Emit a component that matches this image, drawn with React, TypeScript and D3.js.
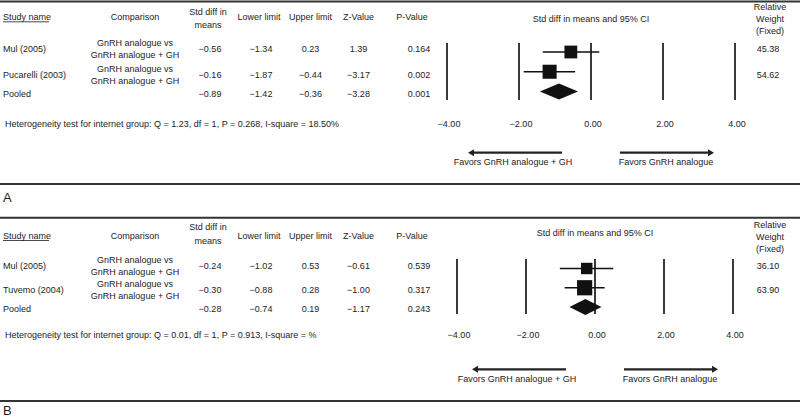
import React from "react";
import * as d3 from "d3";

// ---------- DATA ----------
const studiesA = ["Mul (2005)", "Pucarelli (2003)"];
const effectA = [-0.56, -0.16];
const markerA = [-0.56, -1.15]; // box position as drawn in the source figure
const lowerA = [-1.34, -1.87];
const upperA = [0.23, -0.44];
const zA = [1.39, -3.17];
const pA = [0.164, 0.002];
const weightA = [45.38, 54.62];
const pooledA = [-0.89, -1.42, -0.36, -3.28, 0.001]; // effect, lower, upper, z, p
const hetA = "Heterogeneity test for internet group: Q = 1.23, df = 1, P = 0.268, I-square = 18.50%";

const studiesB = ["Mul (2005)", "Tuvemo (2004)"];
const effectB = [-0.24, -0.30];
const markerB = [-0.24, -0.30];
const lowerB = [-1.02, -0.88];
const upperB = [0.53, 0.28];
const zB = [-0.61, -1.0];
const pB = [0.539, 0.317];
const weightB = [36.1, 63.9];
const pooledB = [-0.28, -0.74, 0.19, -1.17, 0.243];
const hetB = "Heterogeneity test for internet group: Q = 0.01, df = 1, P = 0.913, I-square = %";

const comparison = ["GnRH analogue vs", "GnRH analogue + GH"];
const ticks = [-4, -2, 0, 2, 4];
const favorsLeft = "Favors GnRH analogue + GH";
const favorsRight = "Favors GnRH analogue";

// ---------- LAYOUT ----------
const W = 800;
const H = 419;
const FONT = "'Liberation Sans', Arial, Helvetica, sans-serif";
const INK = "#1c1c1c";

const panels = [
  {
    label: "A", studies: studiesA, effect: effectA, marker: markerA, lower: lowerA, upper: upperA,
    z: zA, p: pA, weight: weightA, pooled: pooledA, het: hetA,
    top: 1.5, header: 17.3, std1: 12.3, std2: 25, rel: [7.3, 19.3, 30.8], title: 19.3,
    rowY: [49, 75, 94], plotY: [52, 91.5], vline: [43, 100], tickY: 123.5, hetY: 124,
    arrowY: 152.7, arrowText: 161.7, sep: 184, labelY: 197.7,
    xr: [447, 735],
  },
  {
    label: "B", studies: studiesB, effect: effectB, marker: markerB, lower: lowerB, upper: upperB,
    z: zB, p: pB, weight: weightB, pooled: pooledB, het: hetB,
    top: 217.7, header: 236, std1: 227.3, std2: 241, rel: [225, 236.8, 249], title: 233.3,
    rowY: [266, 290, 309], plotY: [268.5, 307], vline: [259, 314], tickY: 335, hetY: 335,
    arrowY: 369.3, arrowText: 379.3, sep: 401, labelY: 410.5,
    xr: [457, 733],
  },
];

const col = { study: 3, comp: 135, std: 210, lower: 261, upper: 310.5, z: 358.5, p: 419, pHead: 412, weight: 768 };

const f2 = d3.format(".2f");
const f3 = d3.format(".3f");
const fs = 9;

function Panel({ P }: { P: any }) {
  const x = d3.scaleLinear().domain([-4, 4]).range(P.xr);
  const y = d3.scaleLinear().domain([0, 2]).range(P.plotY);
  const size = d3.scaleSqrt().domain([0, 100]).range([0, 19]);
  const textProps = { fontFamily: FONT, fontSize: fs, fill: INK };
  const x0 = x(0);
  const arrowGap = 29;
  const arrowLen = 94;
  const rows = P.studies.map((s: string, i: number) => ({ s, i }));
  const pooledRowY = P.rowY[2];
  const diamondH = 8;
  return (
    <g>
      <line x1={0} x2={W} y1={P.top} y2={P.top} stroke="#333" strokeWidth={2} />
      {/* headers */}
      <text {...textProps} x={col.study} y={P.header} dy="0.35em">Study name</text>
      <line x1={col.study} x2={col.study + 46} y1={P.header + 4.5} y2={P.header + 4.5} stroke={INK} strokeWidth={0.8} />
      <text {...textProps} x={col.comp} y={P.header} dy="0.35em" textAnchor="middle">Comparison</text>
      <text {...textProps} x={col.std - 2} y={P.std1} dy="0.35em" textAnchor="middle">Std diff in</text>
      <text {...textProps} x={col.std - 2} y={P.std2} dy="0.35em" textAnchor="middle">means</text>
      <text {...textProps} x={col.lower - 2} y={P.header} dy="0.35em" textAnchor="middle">Lower limit</text>
      <text {...textProps} x={col.upper} y={P.header} dy="0.35em" textAnchor="middle">Upper limit</text>
      <text {...textProps} x={col.z} y={P.header} dy="0.35em" textAnchor="middle">Z-Value</text>
      <text {...textProps} x={col.pHead} y={P.header} dy="0.35em" textAnchor="middle">P-Value</text>
      <text {...textProps} x={x0} y={P.title} dy="0.35em" textAnchor="middle">Std diff in means and 95% CI</text>
      {["Relative", "Weight", "(Fixed)"].map((t, k) => (
        <text key={t} {...textProps} x={col.weight + 2} y={P.rel[k]} dy="0.35em" textAnchor="middle">{t}</text>
      ))}
      {/* study rows */}
      {rows.map(({ s, i }: any) => (
        <g key={s}>
          <text {...textProps} x={col.study} y={P.rowY[i]} dy="0.35em">{s}</text>
          <text {...textProps} x={col.comp} y={P.rowY[i] - 5.8} dy="0.35em" textAnchor="middle">{comparison[0]}</text>
          <text {...textProps} x={col.comp} y={P.rowY[i] + 5.8} dy="0.35em" textAnchor="middle">{comparison[1]}</text>
          <text {...textProps} x={col.std} y={P.rowY[i]} dy="0.35em" textAnchor="middle">{f2(P.effect[i])}</text>
          <text {...textProps} x={col.lower} y={P.rowY[i]} dy="0.35em" textAnchor="middle">{f2(P.lower[i])}</text>
          <text {...textProps} x={col.upper} y={P.rowY[i]} dy="0.35em" textAnchor="middle">{f2(P.upper[i])}</text>
          <text {...textProps} x={col.z} y={P.rowY[i]} dy="0.35em" textAnchor="middle">{f2(P.z[i])}</text>
          <text {...textProps} x={col.p} y={P.rowY[i]} dy="0.35em" textAnchor="middle">{f3(P.p[i])}</text>
          <text {...textProps} x={col.weight} y={P.rowY[i]} dy="0.35em" textAnchor="middle">{f2(P.weight[i])}</text>
        </g>
      ))}
      <text {...textProps} x={col.study} y={pooledRowY} dy="0.35em">Pooled</text>
      <text {...textProps} x={col.std} y={pooledRowY} dy="0.35em" textAnchor="middle">{f2(P.pooled[0])}</text>
      <text {...textProps} x={col.lower} y={pooledRowY} dy="0.35em" textAnchor="middle">{f2(P.pooled[1])}</text>
      <text {...textProps} x={col.upper} y={pooledRowY} dy="0.35em" textAnchor="middle">{f2(P.pooled[2])}</text>
      <text {...textProps} x={col.z} y={pooledRowY} dy="0.35em" textAnchor="middle">{f2(P.pooled[3])}</text>
      <text {...textProps} x={col.p} y={pooledRowY} dy="0.35em" textAnchor="middle">{f3(P.pooled[4])}</text>
      {/* forest plot */}
      {ticks.map((t) => (
        <g key={t}>
          <line x1={x(t)} x2={x(t)} y1={P.vline[0]} y2={P.vline[1]} stroke="#3a3a3a" strokeWidth={2} />
          <text {...textProps} x={x(t) + 2} y={P.tickY} dy="0.35em" textAnchor="middle">{f2(t)}</text>
        </g>
      ))}
      {rows.map(({ i }: any) => {
        const s = size(P.weight[i]);
        return (
          <g key={"m" + i}>
            <line x1={x(P.lower[i])} x2={x(P.upper[i])} y1={y(i)} y2={y(i)} stroke="#111" strokeWidth={1.6} />
            <rect x={x(P.marker[i]) - s / 2} y={y(i) - s / 2} width={s} height={s} fill="#111" />
          </g>
        );
      })}
      <path
        d={`M${x(P.pooled[1])},${y(2)} L${x(P.pooled[0])},${y(2) - diamondH} L${x(P.pooled[2])},${y(2)} L${x(P.pooled[0])},${y(2) + diamondH} Z`}
        fill="#111"
      />
      <text {...textProps} x={col.study + 2} y={P.hetY} dy="0.35em">{P.het}</text>
      {/* favors arrows */}
      <line x1={x0 - arrowGap} x2={x0 - arrowGap - arrowLen + 4} y1={P.arrowY} y2={P.arrowY} stroke="#222" strokeWidth={2.2} />
      <path d={`M${x0 - arrowGap - arrowLen},${P.arrowY} l6,-3.5 l0,7 Z`} fill="#222" />
      <text {...textProps} x={x0 - arrowGap - arrowLen / 2 - 2} y={P.arrowText} dy="0.35em" textAnchor="middle">{favorsLeft}</text>
      <line x1={x0 + arrowGap} x2={x0 + arrowGap + arrowLen - 4} y1={P.arrowY} y2={P.arrowY} stroke="#222" strokeWidth={2.2} />
      <path d={`M${x0 + arrowGap + arrowLen},${P.arrowY} l-6,-3.5 l0,7 Z`} fill="#222" />
      <text {...textProps} x={x0 + arrowGap + arrowLen / 2 - 1} y={P.arrowText} dy="0.35em" textAnchor="middle">{favorsRight}</text>
      <line x1={0} x2={W} y1={P.sep} y2={P.sep} stroke="#333" strokeWidth={2} />
      <text fontFamily={FONT} fontSize={13} fill={INK} x={3} y={P.labelY} dy="0.35em">{P.label}</text>
    </g>
  );
}

export default function App() {
  return (
    <svg width={W} height={H} style={{ position: "absolute", left: 0, top: 0, background: "#fff" }}>
      <rect x={0} y={0} width={W} height={H} fill="#fff" />
      {panels.map((P) => (
        <Panel key={P.label} P={P} />
      ))}
    </svg>
  );
}
